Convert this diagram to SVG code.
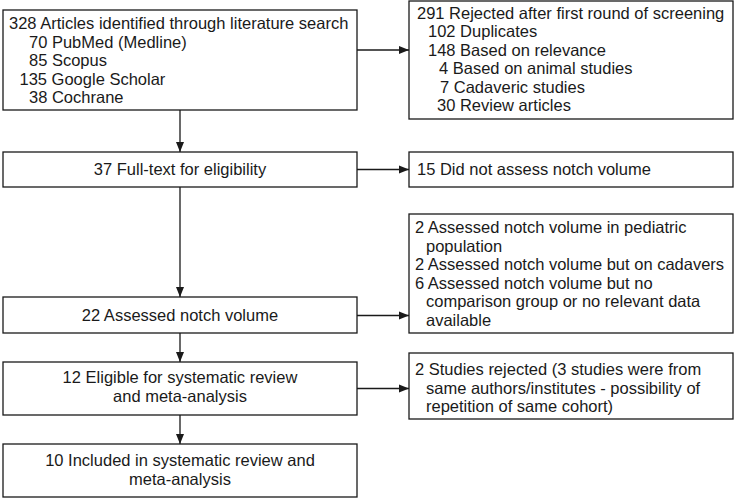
<svg xmlns="http://www.w3.org/2000/svg" width="735" height="500" viewBox="0 0 735 500">
<style>
.box{fill:#fff;stroke:#1a1a1a;stroke-width:1.3}
.t{font-family:"Liberation Sans",Arial,sans-serif;font-size:16.5px;fill:#1a1a1a}
.c{text-anchor:middle}
.ln{stroke:#1a1a1a;stroke-width:1.3;fill:none}
</style>
<defs>
<marker id="ah" markerUnits="userSpaceOnUse" markerWidth="10" markerHeight="10" viewBox="0 0 10 10" refX="10" refY="5" orient="auto">
<path d="M0,1 L10,5 L0,9 Z" fill="#1a1a1a"/>
</marker>
</defs>
<rect width="735" height="500" fill="#fff"/>
<g id="connectors">
<line class="ln" x1="357" y1="50" x2="409" y2="50" marker-end="url(#ah)"/>
<line class="ln" x1="180" y1="110" x2="180" y2="152" marker-end="url(#ah)"/>
<line class="ln" x1="357" y1="169.5" x2="409" y2="169.5" marker-end="url(#ah)"/>
<line class="ln" x1="180" y1="187" x2="180" y2="297" marker-end="url(#ah)"/>
<line class="ln" x1="357" y1="315.5" x2="409" y2="315.5" marker-end="url(#ah)"/>
<line class="ln" x1="180" y1="333" x2="180" y2="362" marker-end="url(#ah)"/>
<line class="ln" x1="357" y1="388.5" x2="409" y2="388.5" marker-end="url(#ah)"/>
<line class="ln" x1="180" y1="415" x2="180" y2="444" marker-end="url(#ah)"/>
</g>
<g id="identified">
<rect class="box" x="3" y="10" width="354" height="100"/>
<text class="t" x="9" y="29">328 Articles identified through literature search</text>
<text class="t" x="29" y="47.5">70 PubMed (Medline)</text>
<text class="t" x="29" y="66">85 Scopus</text>
<text class="t" x="19.5" y="84.5">135 Google Scholar</text>
<text class="t" x="29" y="103">38 Cochrane</text>
</g>
<g id="rejected1">
<rect class="box" x="409" y="1" width="324" height="118"/>
<text class="t" x="417" y="18.5">291 Rejected after first round of screening</text>
<text class="t" x="428" y="37">102 Duplicates</text>
<text class="t" x="428" y="55.5">148 Based on relevance</text>
<text class="t" x="439" y="74">4 Based on animal studies</text>
<text class="t" x="440" y="92.5">7 Cadaveric studies</text>
<text class="t" x="437" y="111">30 Review articles</text>
</g>
<g id="fulltext">
<rect class="box" x="3" y="152" width="354" height="35"/>
<text class="t c" x="180" y="175">37 Full-text for eligibility</text>
</g>
<g id="excluded1">
<rect class="box" x="409" y="152" width="324" height="35"/>
<text class="t" x="417" y="175">15 Did not assess notch volume</text>
</g>
<g id="assessed">
<rect class="box" x="3" y="297" width="354" height="36"/>
<text class="t c" x="180" y="321">22 Assessed notch volume</text>
</g>
<g id="excluded2">
<rect class="box" x="409" y="214" width="324" height="119"/>
<text class="t" x="415" y="233">2 Assessed notch volume in pediatric</text>
<text class="t" x="426" y="251.5">population</text>
<text class="t" x="415" y="270">2 Assessed notch volume but on cadavers</text>
<text class="t" x="415" y="288.5">6 Assessed notch volume but no</text>
<text class="t" x="426" y="307">comparison group or no relevant data</text>
<text class="t" x="426" y="325.5">available</text>
</g>
<g id="eligible">
<rect class="box" x="3" y="362" width="354" height="53"/>
<text class="t c" x="180" y="383">12 Eligible for systematic review</text>
<text class="t c" x="180" y="401.5">and meta-analysis</text>
</g>
<g id="excluded3">
<rect class="box" x="409" y="353" width="324" height="66"/>
<text class="t" x="415" y="375">2 Studies rejected (3 studies were from</text>
<text class="t" x="426" y="393.5">same authors/institutes - possibility of</text>
<text class="t" x="426" y="412">repetition of same cohort)</text>
</g>
<g id="included">
<rect class="box" x="3" y="444" width="354" height="53"/>
<text class="t c" x="180" y="466">10 Included in systematic review and</text>
<text class="t c" x="180" y="484.5">meta-analysis</text>
</g>
</svg>
